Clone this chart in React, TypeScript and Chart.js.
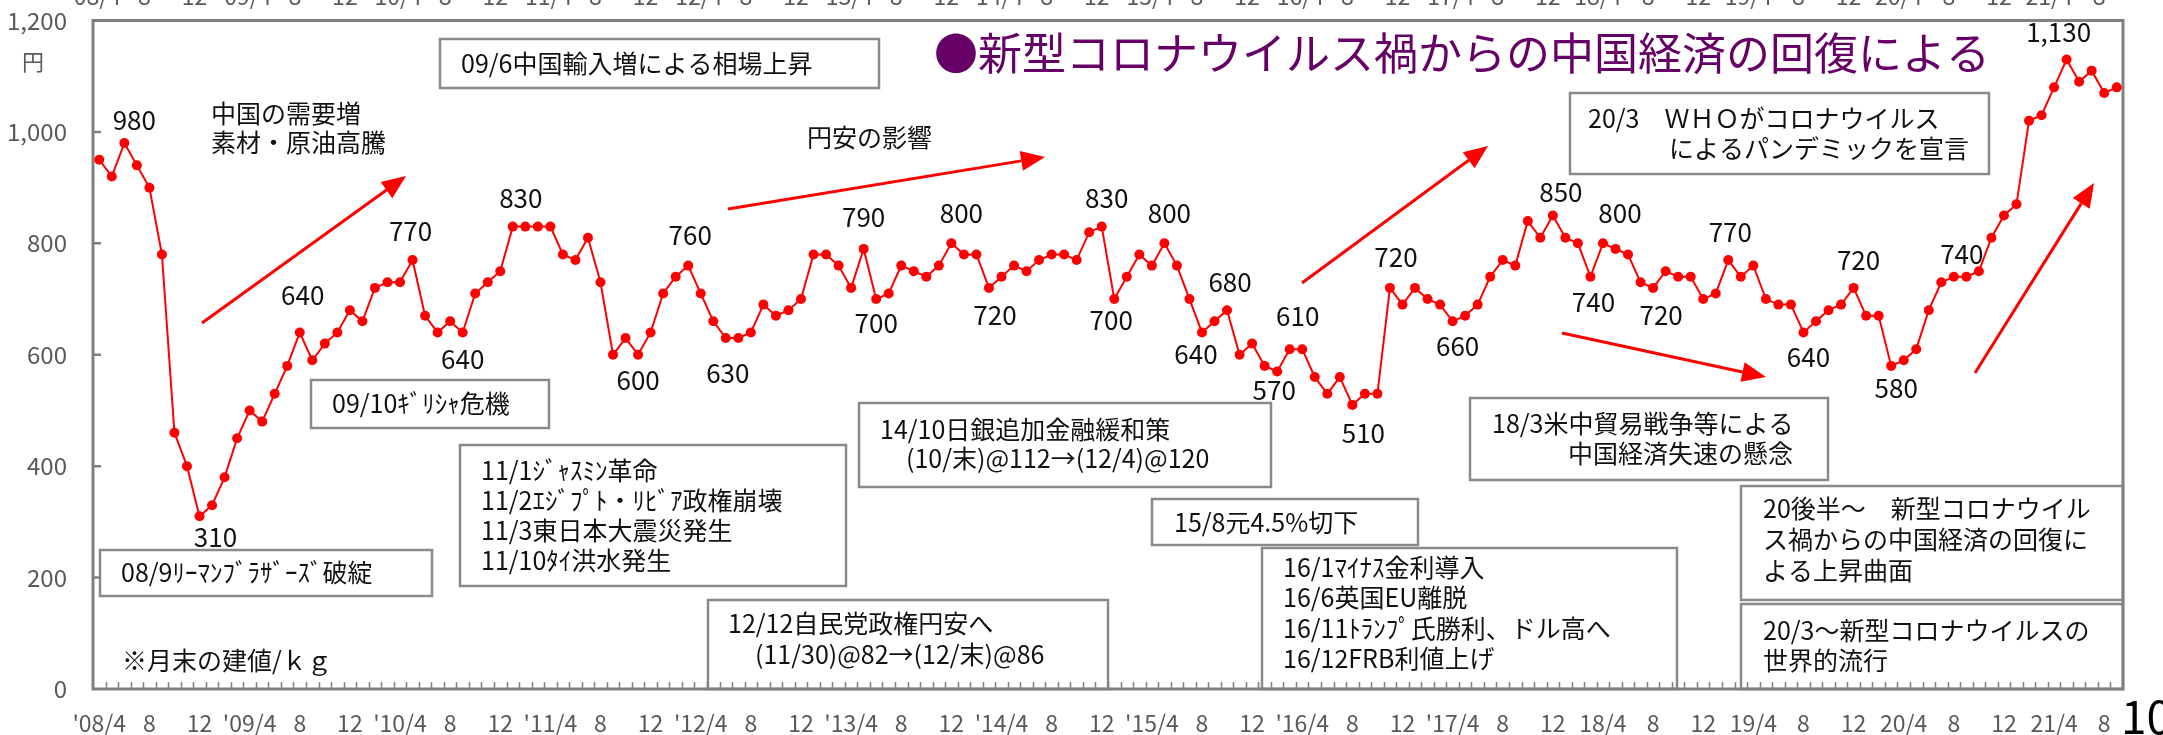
import React, { useEffect, useRef } from 'react';
import { Chart, registerables } from 'chart.js';

Chart.register(...registerables);

const FONT = "'Noto Sans CJK JP', 'Noto Sans', sans-serif";

// Monthly values (円/kg), 2008/4 .. 2021/9
const v2008 = [950, 920, 980, 940, 900, 780, 460, 400, 310];
const v2009 = [330, 380, 450, 500, 480, 530, 580, 640, 590, 620, 640, 680];
const v2010 = [660, 720, 730, 730, 770, 670, 640, 660, 640, 710, 730, 750];
const v2011 = [830, 830, 830, 830, 780, 770, 810, 730, 600, 630, 600, 640];
const v2012 = [710, 740, 760, 710, 660, 630, 630, 640, 690, 670, 680, 700];
const v2013 = [780, 780, 760, 720, 790, 700, 710, 760, 750, 740, 760, 800];
const v2014 = [780, 780, 720, 740, 760, 750, 770, 780, 780, 770, 820, 830];
const v2015 = [700, 740, 780, 760, 800, 760, 700, 640, 660, 680, 600, 620];
const v2016 = [580, 570, 610, 610, 560, 530, 560, 510, 530, 530, 720, 690];
const v2017 = [720, 700, 690, 660, 670, 690, 740, 770, 760, 840, 810, 850];
const v2018 = [810, 800, 740, 800, 790, 780, 730, 720, 750, 740, 740, 700];
const v2019 = [710, 770, 740, 760, 700, 690, 690, 640, 660, 680, 690, 720];
const v2020 = [670, 670, 580, 590, 610, 680, 730, 740, 740, 750, 810, 850];
const v2021 = [870, 1020, 1030, 1080, 1130, 1090, 1110, 1070, 1080];

const values = [
  ...v2008, ...v2009, ...v2010, ...v2011, ...v2012, ...v2013, ...v2014,
  ...v2015, ...v2016, ...v2017, ...v2018, ...v2019, ...v2020, ...v2021,
];

const startYear = 2008;
const startMonth = 4;
const categories: string[] = values.map((_, i) => {
  const m = startMonth - 1 + i;
  return `${startYear + Math.floor(m / 12)}/${(m % 12) + 1}`;
});

// Labels shown every 4 months
const tickLabels = [
  "'08/4", '8', '12', "'09/4", '8', '12', "'10/4", '8', '12', "'11/4", '8', '12',
  "'12/4", '8', '12', "'13/4", '8', '12', "'14/4", '8', '12', "'15/4", '8', '12',
  "'16/4", '8', '12', "'17/4", '8', '12', '18/4', '8', '12', '19/4', '8', '12',
  '20/4', '8', '12', '21/4', '8',
];
const tickEvery = 4;

// Which points carry a value label, and where the label sits relative to the point
const labelledPoints = [2, 8, 16, 25, 29, 33, 43, 47, 50, 61, 62, 68, 71, 80, 81, 85, 88, 90, 94, 95, 100, 103, 108, 116, 119, 120, 124, 130, 136, 140, 143, 148, 157];
const labelOffsets: [number, number][] = [
  [10, -23], [16, 21], [3, -37], [-2, -29], [0, 27], [8, -28], [0, 25], [2, -30], [2, 35],
  [0, -32], [0, 24], [10, -30], [6, 27], [5, -28], [-3, 21], [5, -30], [-6, 22], [3, -28],
  [-3, 19], [8, -33], [11, 28], [6, -31], [5, 25], [8, -23], [3, 25], [17, -30], [8, 27],
  [2, -28], [5, 25], [5, -28], [5, 22], [8, -23], [-8, -27],
];

type Box = { r: [number, number, number, number]; lines: [string, number, number][] };
const boxes: Box[] = [
  { r: [440, 39, 879, 88], lines: [['09/6中国輸入増による相場上昇', 461, 63]] },
  { r: [1570, 93, 1989, 174], lines: [['20/3　ＷＨＯがコロナウイルス', 1588, 118], ['によるパンデミックを宣言', 1669, 148]] },
  { r: [311, 380, 549, 428], lines: [['09/10ｷﾞﾘｼｬ危機', 332, 403]] },
  { r: [460, 445, 846, 586], lines: [['11/1ｼﾞｬｽﾐﾝ革命', 481, 470], ['11/2ｴｼﾞﾌﾟﾄ・ﾘﾋﾞｱ政権崩壊', 481, 500], ['11/3東日本大震災発生', 481, 530], ['11/10ﾀｲ洪水発生', 481, 560]] },
  { r: [100, 550, 432, 596], lines: [['08/9ﾘｰﾏﾝﾌﾞﾗｻﾞｰｽﾞ破綻', 121, 572]] },
  { r: [708, 600, 1108, 689], lines: [['12/12自民党政権円安へ', 728, 623], ['(11/30)@82→(12/末)@86', 755, 654]] },
  { r: [859, 403, 1271, 487], lines: [['14/10日銀追加金融緩和策', 880, 429], ['(10/末)@112→(12/4)@120', 906, 458]] },
  { r: [1152, 499, 1418, 545], lines: [['15/8元4.5%切下', 1174, 522]] },
  { r: [1262, 548, 1677, 689], lines: [['16/1ﾏｲﾅｽ金利導入', 1283, 567], ['16/6英国EU離脱', 1283, 597], ['16/11ﾄﾗﾝﾌﾟ氏勝利、ドル高へ', 1283, 628], ['16/12FRB利値上げ', 1283, 658]] },
  { r: [1470, 398, 1828, 480], lines: [['18/3米中貿易戦争等による', 1492, 423], ['中国経済失速の懸念', 1568, 453]] },
  { r: [1741, 486, 2123, 600], lines: [['20後半～　新型コロナウイル', 1763, 508], ['ス禍からの中国経済の回復に', 1763, 539], ['よる上昇曲面', 1763, 570]] },
  { r: [1741, 604, 2123, 689], lines: [['20/3～新型コロナウイルスの', 1763, 630], ['世界的流行', 1763, 660]] },
];

const notes: [string, number, number][] = [
  ['中国の需要増', 211, 113],
  ['素材・原油高騰', 211, 142],
  ['円安の影響', 807, 137],
  ['※月末の建値/ｋｇ', 122, 660],
];

const arrows: [number, number, number, number][] = [
  [202, 323, 406, 176],
  [728, 209, 1045, 157],
  [1302, 283, 1488, 146],
  [1562, 333, 1766, 377],
  [1975, 373, 2094, 183],
];

const decorPlugin = {
  id: 'decor',
  beforeDatasetsDraw(chart: any) {
    const { ctx, chartArea: a } = chart;
    ctx.save();
    // boxes
    ctx.lineWidth = 2.5;
    ctx.strokeStyle = '#8a8a8a';
    ctx.fillStyle = '#ffffff';
    boxes.forEach((b) => {
      const [x1, y1, x2, y2] = b.r;
      ctx.fillRect(x1, y1, x2 - x1, y2 - y1);
      ctx.strokeRect(x1, y1, x2 - x1, y2 - y1);
    });
    ctx.fillStyle = '#111111';
    ctx.font = `25px ${FONT}`;
    ctx.textBaseline = 'middle';
    ctx.textAlign = 'left';
    boxes.forEach((b) => b.lines.forEach(([t, x, y]) => ctx.fillText(t, x, y)));
    notes.forEach(([t, x, y]) => ctx.fillText(t, x, y));

    // frame
    ctx.strokeStyle = '#808080';
    ctx.lineWidth = 3;
    ctx.strokeRect(a.left, a.top, a.right - a.left, a.bottom - a.top);
    // minor ticks at category boundaries (inward)
    const n = values.length;
    const step = (a.right - a.left) / n;
    ctx.lineWidth = 1.5;
    ctx.beginPath();
    for (let k = 1; k < n; k++) {
      const x = Math.round(a.left + k * step) + 0.5;
      ctx.moveTo(x, a.bottom);
      ctx.lineTo(x, a.bottom - 7);
    }
    ctx.stroke();
    // y ticks inward
    const ys = chart.scales.y;
    ctx.lineWidth = 2.5;
    ctx.beginPath();
    for (let v = 200; v < 1200; v += 200) {
      const y = ys.getPixelForValue(v);
      ctx.moveTo(a.left, y);
      ctx.lineTo(a.left + 8, y);
    }
    ctx.stroke();
    ctx.restore();
  },
  afterDatasetsDraw(chart: any) {
    const { ctx } = chart;
    const meta = chart.getDatasetMeta(0);
    ctx.save();
    // value labels
    ctx.font = `26px ${FONT}`;
    ctx.fillStyle = '#111111';
    ctx.textAlign = 'center';
    ctx.textBaseline = 'middle';
    labelledPoints.forEach((idx, j) => {
      const p = meta.data[idx];
      const [dx, dy] = labelOffsets[j];
      ctx.fillText(values[idx].toLocaleString('en-US'), p.x + dx, p.y + dy);
    });
    // arrows
    ctx.strokeStyle = '#ff0000';
    ctx.fillStyle = '#ff0000';
    ctx.lineWidth = 3;
    arrows.forEach(([x1, y1, x2, y2]) => {
      const ang = Math.atan2(y2 - y1, x2 - x1);
      const hl = 24, hw = 10;
      const bx = x2 - hl * Math.cos(ang), by = y2 - hl * Math.sin(ang);
      ctx.beginPath();
      ctx.moveTo(x1, y1);
      ctx.lineTo(bx, by);
      ctx.stroke();
      ctx.beginPath();
      ctx.moveTo(x2, y2);
      ctx.lineTo(bx + hw * Math.sin(ang), by - hw * Math.cos(ang));
      ctx.lineTo(bx - hw * Math.sin(ang), by + hw * Math.cos(ang));
      ctx.closePath();
      ctx.fill();
    });
    ctx.restore();
  },
  afterDraw(chart: any) {
    const { ctx } = chart;
    const xs = chart.scales.x;
    ctx.save();
    // title
    ctx.font = `44px ${FONT}`;
    ctx.fillStyle = '#660066';
    ctx.textAlign = 'left';
    ctx.textBaseline = 'middle';
    ctx.fillText('●新型コロナウイルス禍からの中国経済の回復による', 934, 53);
    // unit
    ctx.font = `22px ${FONT}`;
    ctx.fillStyle = '#595959';
    ctx.textAlign = 'center';
    ctx.fillText('円', 33, 62);
    // clipped duplicate of the axis labels at the very top
    ctx.font = `23px ${FONT}`;
    ctx.textBaseline = 'alphabetic';
    tickLabels.forEach((t, j) => {
      const x = xs.getPixelForValue(j * tickEvery) - 5;
      ctx.fillText(t, x, 5);
    });
    // page number
    ctx.font = `46px 'Liberation Sans Narrow', ${FONT}`;
    ctx.fillStyle = '#000000';
    ctx.textAlign = 'left';
    ctx.fillText('10', 2121, 734);
    ctx.restore();
  },
};

export default function App() {
  const ref = useRef<HTMLCanvasElement | null>(null);
  useEffect(() => {
    let chart: Chart | null = null;
    let cancelled = false;
    const make = () => {
      if (cancelled || !ref.current) return;
      chart = new Chart(ref.current, {
        type: 'line',
        data: {
          labels: categories,
          datasets: [
            {
              data: values,
              borderColor: '#ff0000',
              backgroundColor: '#ff0000',
              borderWidth: 2,
              pointRadius: 5,
              pointBackgroundColor: '#ff0000',
              pointBorderWidth: 0,
              tension: 0,
            },
          ],
        },
        options: {
          responsive: false,
          animation: false,
          devicePixelRatio: 1,
          layout: { padding: { top: 20.5, right: 40, left: 0, bottom: 0 } },
          plugins: { legend: { display: false }, tooltip: { enabled: false } },
          scales: {
            x: {
              type: 'category',
              offset: true,
              grid: { display: false, drawTicks: false },
              border: { display: false },
              ticks: {
                autoSkip: false,
                maxRotation: 0,
                minRotation: 0,
                padding: 20,
                color: '#595959',
                font: { size: 23, family: FONT },
                callback: (_v: any, i: number) => (i % tickEvery === 0 ? tickLabels[i / tickEvery] ?? '' : ''),
              },
              afterFit: (s: any) => {
                s.height = 46;
                s.paddingLeft = 0;
                s.paddingRight = 0;
              },
            },
            y: {
              min: 0,
              max: 1200,
              grid: { display: false, drawTicks: false },
              border: { display: false },
              ticks: {
                stepSize: 200,
                padding: 26,
                color: '#595959',
                font: { size: 24, family: FONT },
              },
              afterFit: (s: any) => {
                s.width = 93;
                s.paddingTop = 0;
                s.paddingBottom = 0;
              },
            },
          },
        },
        plugins: [decorPlugin],
      } as any);
    };
    const fontsReady = (document as any).fonts
      ? Promise.all([
          (document as any).fonts.load(`25px "Noto Sans CJK JP"`),
          (document as any).fonts.load(`46px "Liberation Sans Narrow"`),
        ]).catch(() => null)
      : Promise.resolve(null);
    fontsReady.then(make);
    return () => {
      cancelled = true;
      if (chart) chart.destroy();
    };
  }, []);
  return (
    <div style={{ position: 'fixed', left: 0, top: 0, width: 2163, height: 735, background: '#ffffff' }}>
      <canvas ref={ref} width={2163} height={735} style={{ display: 'block', width: 2163, height: 735 }} />
    </div>
  );
}
